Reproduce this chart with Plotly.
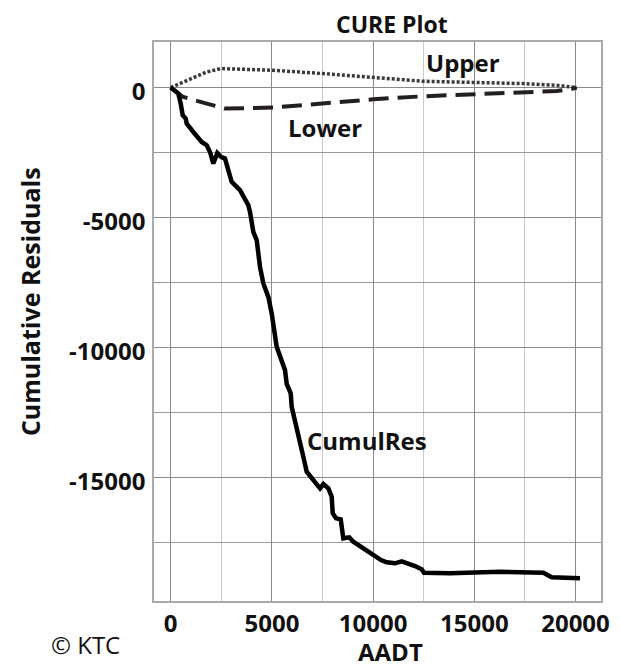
import plotly.graph_objects as go

# CumulRes series
cumul_aadt = [0, 375, 494, 593, 741, 790, 1117, 1532, 1779, 1942, 2105, 2303, 2485, 2683, 3013, 3424,
              3834, 3918, 4082, 4249, 4412, 4577, 4823, 4990, 5237, 5484, 5648, 5731, 5929, 5978, 6142,
              6307, 6553, 6719, 7048, 7377, 7542, 7787, 7955, 8004, 8168, 8400, 8529, 8825, 9023, 9517,
              9932, 10179, 10391, 10672, 11083, 11413, 11742, 12071, 12401, 12516, 13800, 16271, 18411,
              18823, 20223]
cumul_res = [0, -231, -615, -1065, -1192, -1385, -1708, -2092, -2219, -2477, -2923, -2515, -2669, -2731,
             -3631, -3950, -4527, -4785, -5554, -5873, -6900, -7538, -8054, -8692, -9977, -10488, -10873,
             -11400, -11769, -12285, -12796, -13308, -14208, -14785, -15104, -15423, -15258, -15423, -15746,
             -16385, -16577, -16615, -17346, -17308, -17477, -17731, -17923, -18027, -18181, -18269, -18308,
             -18231, -18308, -18412, -18538, -18669, -18692, -18631, -18669, -18846, -18885]

# Upper bound
upper_aadt = [0, 622, 1779, 2485, 5070, 7540, 12480, 17420, 19070, 20060]
upper_val = [0, 215, 600, 731, 665, 538, 242, 154, 88, 0]

# Lower bound
lower_aadt = [0, 622, 1779, 2683, 5070, 7540, 10010, 12480, 14950, 17420, 19070, 19890, 20060]
lower_val = [0, -362, -615, -808, -769, -615, -450, -335, -258, -208, -131, -38, 0]

x_ticks = [0, 5000, 10000, 15000, 20000]
y_ticks = [0, -5000, -10000, -15000]

FONT = "Open Sans"
INK = "#111111"

fig = go.Figure()
fig.add_trace(go.Scatter(x=upper_aadt, y=upper_val, mode="lines",
                         line=dict(color="#3a3a3a", width=3.5, dash="3px,2px"), name="Upper"))
fig.add_trace(go.Scatter(x=lower_aadt, y=lower_val, mode="lines",
                         line=dict(color="#231f20", width=4, dash="20px,9px"), name="Lower"))
fig.add_trace(go.Scatter(x=cumul_aadt, y=cumul_res, mode="lines",
                         line=dict(color="#000000", width=4.5), name="CumulRes"))

label_font = dict(family=FONT, size=24, color=INK, weight="bold")
fig.add_annotation(x=14442, y=973, text="Upper", showarrow=False, font=label_font)
fig.add_annotation(x=7623, y=-1527, text="Lower", showarrow=False, font=label_font)
fig.add_annotation(x=9698, y=-13565, text="CumulRes", showarrow=False, font=label_font)

paper = dict(xref="paper", yref="paper", showarrow=False, xanchor="center", yanchor="middle",
             borderpad=0)
fig.add_annotation(x=0.532, y=1.032, text="CURE Plot",
                   font=dict(family=FONT, size=23, color=INK, weight="bold"), **paper)
fig.add_annotation(x=0.530, y=-0.0905, text="AADT",
                   font=dict(family=FONT, size=24, color=INK, weight="bold"), **paper)
fig.add_annotation(x=-0.277, y=0.535, text="Cumulative Residuals", textangle=-90,
                   font=dict(family=FONT, size=25, color=INK, weight="bold"), **paper)
fig.add_annotation(x=-0.154, y=-0.0787, text="© KTC",
                   font=dict(family=FONT, size=24, color=INK), **paper)

fig.update_layout(
    width=620, height=669,
    margin=dict(l=146, r=27, t=34, b=76),
    paper_bgcolor="white", plot_bgcolor="white",
    showlegend=False,
    font=dict(family=FONT, size=24, color=INK),
)
fig.update_xaxes(
    range=[-825, 21260], tickvals=x_ticks, ticktext=[str(v) for v in x_ticks],
    tickfont=dict(family=FONT, size=24, color=INK, weight="bold"),
    showgrid=True, gridcolor="#8a8a8a", gridwidth=1,
    minor=dict(dtick=2500, showgrid=True, gridcolor="#c8c8c8", gridwidth=1.3),
    showline=True, linecolor="#aaaaaa", linewidth=1.5, mirror=True,
    ticks="", zeroline=False,
)
fig.update_yaxes(
    range=[-19758, 1754], tickvals=y_ticks, ticktext=[str(v) for v in y_ticks],
    tickfont=dict(family=FONT, size=24, color=INK, weight="bold"),
    showgrid=True, gridcolor="#8a8a8a", gridwidth=1,
    minor=dict(dtick=2500, showgrid=True, gridcolor="#9a9a9a", gridwidth=1),
    showline=True, linecolor="#aaaaaa", linewidth=1.5, mirror=True,
    ticks="outside", ticklen=2, tickcolor="rgba(0,0,0,0)", zeroline=False,
    ticklabelshift=4,
)

fig.write_html("out.html")
